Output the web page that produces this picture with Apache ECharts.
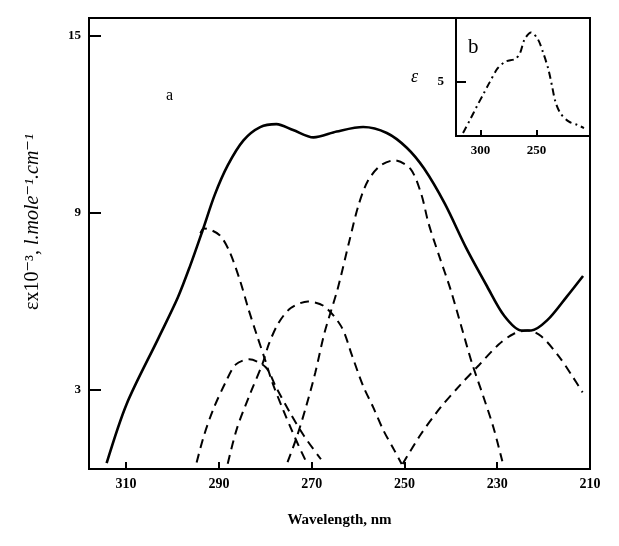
<!DOCTYPE html>
<html lang="en">
<head>
<meta charset="UTF-8" />
<title>Absorption spectrum</title>
<script src="https://cdn.jsdelivr.net/npm/echarts@6/dist/echarts.min.js"></script>
<style>
  html, body { margin: 0; padding: 0; background: #fff; }
  #main { width: 619px; height: 546px; }
</style>
</head>
<body>
<div id="main"></div>
<script>
// axis ticks
var xTicks = [310, 290, 270, 250, 230, 210];
var yTicks = [3, 9, 15];
var insetXTicks = [300, 250];
var insetYTicks = [5];

// (a) measured envelope, solid line
var wlSum = [314.2, 309.9, 303.0, 298.9, 296.3, 293.5, 290.9, 288.1, 284.7, 281.1, 277.6, 274.0, 269.6, 264.6, 258.9, 253.8, 249.5, 245.8, 241.3, 236.7, 232.2, 228.5, 224.8, 222.7, 219.2, 215.0, 211.5];
var epsSum = [0.5, 2.5, 4.75, 6.1, 7.15, 8.4, 9.6, 10.6, 11.45, 11.9, 12.0, 11.8, 11.55, 11.75, 11.9, 11.7, 11.2, 10.5, 9.3, 7.8, 6.5, 5.5, 5.0, 5.0, 5.35, 6.15, 6.85];

// (a) resolved bands, dashed lines
var wlA = [294.0, 293.2, 289.9, 287.7, 285.4, 283.7, 281.9, 280.2, 278.4, 276.1, 274.3, 272.7, 271.1];
var epsA = [8.3, 8.46, 8.24, 7.67, 6.67, 5.76, 4.88, 4.08, 3.2, 2.29, 1.62, 1.05, 0.52];

var wlB = [294.8, 293.2, 291.2, 288.5, 286.4, 283.5, 279.9, 277.7, 274.6, 271.6, 268.0];
var epsB = [0.52, 1.44, 2.33, 3.26, 3.84, 4.02, 3.75, 3.08, 2.19, 1.41, 0.63];

var wlC = [288.1, 286.1, 283.3, 280.6, 279.2, 277.2, 274.5, 270.8, 267.4, 263.6, 261.3, 259.0, 256.7, 254.5, 252.2, 250.6];
var epsC = [0.48, 1.68, 2.84, 3.87, 4.55, 5.24, 5.76, 5.98, 5.83, 5.13, 4.15, 3.15, 2.38, 1.6, 0.94, 0.47];

var wlD = [275.2, 273.2, 271.2, 269.2, 267.2, 264.4, 261.9, 259.9, 257.9, 255.2, 252.2, 248.7, 246.4, 244.8, 242.5, 240.1, 237.8, 235.5, 233.1, 230.8, 228.9];
var epsD = [0.53, 1.39, 2.42, 3.58, 4.94, 6.41, 8.02, 9.25, 10.07, 10.59, 10.77, 10.48, 9.64, 8.63, 7.52, 6.41, 5.17, 3.92, 2.81, 1.70, 0.56];

var wlE = [250.4, 246.5, 242.3, 238.1, 233.9, 229.7, 226.5, 223.4, 220.5, 216.8, 213.9, 211.6];
var epsE = [0.47, 1.47, 2.37, 3.13, 3.83, 4.52, 4.88, 5.0, 4.80, 4.14, 3.47, 2.90];

// (b) inset spectrum, dash-dot line
var wlInset = [315.7, 310.0, 303.1, 297.4, 291.8, 284.8, 277.6, 268.9, 264.6, 260.6, 254.8, 248.8, 244.1, 239.4, 236.1, 232.9, 228.3, 220.8, 213.4, 207.4];
var epsInset = [0.28, 1.37, 2.76, 3.85, 4.93, 6.18, 6.81, 7.05, 7.61, 8.85, 9.48, 8.88, 7.67, 6.15, 4.63, 3.11, 2.05, 1.31, 1.02, 0.73];

function pairs(xs, ys) {
  return xs.map(function (x, i) { return [x, ys[i]]; });
}

var serif = "'Liberation Serif', 'DejaVu Serif', serif";
var black = '#000';

function line(name, xs, ys, dash, width, grid) {
  return {
    name: name,
    type: 'line',
    xAxisIndex: grid,
    yAxisIndex: grid,
    data: pairs(xs, ys),
    smooth: 0.3,
    symbol: 'none',
    silent: true,
    lineStyle: { color: black, width: width, type: dash }
  };
}

var myChart = echarts.init(document.getElementById('main'));

var option = {
  animation: false,
  backgroundColor: '#fff',
  grid: [
    { left: 89, top: 18, right: 29, bottom: 77, show: true, borderColor: black, borderWidth: 2 },
    { left: 456, top: 18, right: 29, height: 118, show: true, borderColor: black, borderWidth: 2, backgroundColor: '#fff' }
  ],
  xAxis: [
    {
      type: 'value', gridIndex: 0, min: 210, max: 318, inverse: true,
      axisLine: { lineStyle: { color: black, width: 2 } },
      axisTick: { inside: true, length: 7, customValues: xTicks, lineStyle: { color: black, width: 2 } },
      axisLabel: { customValues: xTicks, color: black, fontFamily: serif, fontWeight: 'bold', fontSize: 14, margin: 8 },
      splitLine: { show: false },
      name: 'Wavelength, nm',
      nameLocation: 'middle',
      nameGap: 44,
      nameTextStyle: { color: black, fontFamily: serif, fontWeight: 'bold', fontSize: 15 }
    },
    {
      type: 'value', gridIndex: 1, min: 202, max: 322, inverse: true,
      axisLine: { lineStyle: { color: black, width: 2 } },
      axisTick: { inside: true, length: 6, customValues: insetXTicks, lineStyle: { color: black, width: 2 } },
      axisLabel: { customValues: insetXTicks, color: black, fontFamily: serif, fontWeight: 'bold', fontSize: 13, margin: 8 },
      splitLine: { show: false }
    }
  ],
  yAxis: [
    {
      type: 'value', gridIndex: 0, min: 0.3, max: 15.6,
      axisLine: { show: true, lineStyle: { color: black, width: 2 } },
      axisTick: { show: true, inside: true, length: 12, customValues: yTicks, lineStyle: { color: black, width: 2 } },
      axisLabel: { customValues: yTicks, color: black, fontFamily: serif, fontWeight: 'bold', fontSize: 13, margin: 8 },
      splitLine: { show: false }
    },
    {
      type: 'value', gridIndex: 1, min: 0, max: 10.8,
      axisLine: { show: true, lineStyle: { color: black, width: 2 } },
      axisTick: { show: true, inside: true, length: 10, customValues: insetYTicks, lineStyle: { color: black, width: 2 } },
      axisLabel: { customValues: insetYTicks, color: black, fontFamily: serif, fontWeight: 'bold', fontSize: 13, margin: 12 },
      splitLine: { show: false },
      name: 'ε',
      nameLocation: 'middle',
      nameRotate: 0,
      nameGap: 38,
      nameTextStyle: { color: black, fontFamily: serif, fontStyle: 'italic', fontSize: 18 }
    }
  ],
  graphic: [
    // y axis title, placed by hand a little above the plot middle as in the original
    {
      type: 'text', x: 33, y: 222, rotation: Math.PI / 2,
      style: {
        text: '{n|εx10⁻³, }{i|l.mole⁻¹.cm⁻¹}',
        textAlign: 'center', textVerticalAlign: 'middle',
        rich: {
          n: { fontFamily: serif, fontSize: 20, fill: black },
          i: { fontFamily: serif, fontSize: 20, fontStyle: 'italic', fill: black }
        }
      }
    },
    { type: 'text', left: 166, top: 88, style: { text: 'a', font: '16px ' + serif, fill: black } },
    { type: 'text', left: 468, top: 37, style: { text: 'b', font: '21px ' + serif, fill: black } }
  ],
  series: [
    line('sum', wlSum, epsSum, 'solid', 2.6, 0),
    line('band A', wlA, epsA, [9, 6], 2, 0),
    line('band B', wlB, epsB, [9, 6], 2, 0),
    line('band C', wlC, epsC, [9, 6], 2, 0),
    line('band D', wlD, epsD, [9, 6], 2, 0),
    line('band E', wlE, epsE, [9, 6], 2, 0),
    line('inset', wlInset, epsInset, [7, 4, 2, 4], 2, 1)
  ]
};

myChart.setOption(option);
</script>
</body>
</html>
